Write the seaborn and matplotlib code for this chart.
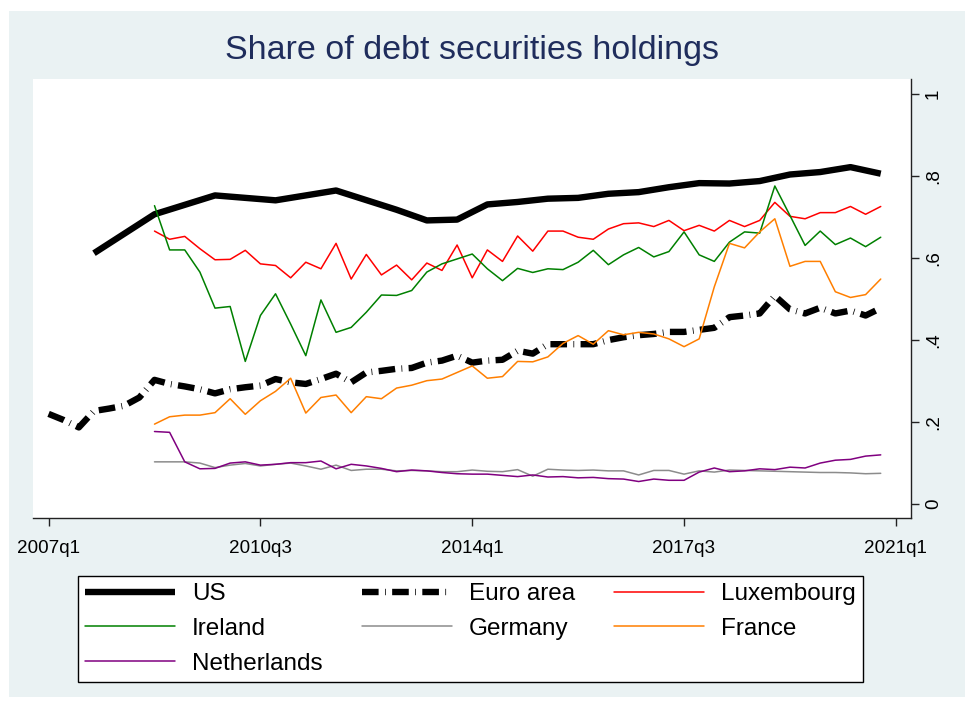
"""
Share of debt securities holdings, 2007q1-2020q4
"""

import matplotlib
matplotlib.use("Agg")
import matplotlib.pyplot as plt
import seaborn as sb
from matplotlib.patches import Rectangle

# Data
us_periods = ["2007q4", "2008q4", "2009q4", "2010q4", "2011q4", "2012q4",
              "2013q2", "2013q4", "2014q2", "2014q4", "2015q2", "2015q4",
              "2016q2", "2016q4", "2017q2", "2017q4", "2018q2", "2018q4",
              "2019q2", "2019q4", "2020q2", "2020q4"]
us = [0.612, 0.707, 0.753, 0.741, 0.765, 0.718, 0.692, 0.694, 0.731, 0.737,
      0.745, 0.747, 0.757, 0.761, 0.773, 0.783, 0.782, 0.788, 0.804, 0.810,
      0.822, 0.806]

# euro area: every quarter 2007q1 .. 2020q4
euro_start, euro_end = "2007q1", "2020q4"
euro = [0.220, 0.205, 0.187, 0.227, 0.233, 0.240, 0.260, 0.303, 0.293, 0.287,
        0.280, 0.270, 0.280, 0.285, 0.289, 0.305, 0.297, 0.293, 0.305, 0.318,
        0.297, 0.321, 0.325, 0.330, 0.332, 0.345, 0.350, 0.362, 0.345, 0.350,
        0.352, 0.374, 0.367, 0.390, 0.390, 0.390, 0.390, 0.400, 0.407, 0.412,
        0.415, 0.420, 0.420, 0.425, 0.430, 0.456, 0.460, 0.465, 0.508, 0.475,
        0.465, 0.479, 0.465, 0.472, 0.460, 0.478]

# countries: every quarter 2008q4 .. 2020q4
cty_start, cty_end = "2008q4", "2020q4"
luxembourg = [0.666, 0.646, 0.653, 0.623, 0.596, 0.597, 0.619, 0.586, 0.582, 0.552,
              0.590, 0.574, 0.636, 0.549, 0.609, 0.559, 0.583, 0.547, 0.588, 0.570,
              0.632, 0.552, 0.620, 0.592, 0.654, 0.617, 0.666, 0.666, 0.651, 0.646,
              0.671, 0.684, 0.686, 0.677, 0.692, 0.667, 0.680, 0.666, 0.692, 0.677,
              0.692, 0.736, 0.702, 0.696, 0.711, 0.711, 0.726, 0.707, 0.726]
ireland = [0.728, 0.620, 0.620, 0.566, 0.478, 0.482, 0.348, 0.460, 0.513, 0.439,
           0.362, 0.498, 0.419, 0.431, 0.468, 0.510, 0.509, 0.521, 0.566, 0.586,
           0.598, 0.610, 0.574, 0.545, 0.575, 0.565, 0.574, 0.572, 0.590, 0.619,
           0.584, 0.608, 0.626, 0.603, 0.616, 0.664, 0.608, 0.592, 0.639, 0.664,
           0.661, 0.776, 0.704, 0.631, 0.666, 0.633, 0.649, 0.628, 0.651]
germany = [0.103, 0.103, 0.103, 0.100, 0.089, 0.095, 0.099, 0.093, 0.097, 0.100,
           0.093, 0.085, 0.095, 0.082, 0.085, 0.085, 0.081, 0.082, 0.081, 0.079,
           0.079, 0.083, 0.080, 0.079, 0.084, 0.068, 0.085, 0.083, 0.082, 0.083,
           0.081, 0.081, 0.071, 0.082, 0.082, 0.073, 0.081, 0.078, 0.083, 0.082,
           0.081, 0.080, 0.079, 0.078, 0.077, 0.077, 0.076, 0.074, 0.075]
france = [0.195, 0.213, 0.217, 0.217, 0.223, 0.257, 0.219, 0.252, 0.275, 0.307,
          0.222, 0.260, 0.266, 0.223, 0.262, 0.257, 0.283, 0.290, 0.301, 0.305,
          0.321, 0.337, 0.307, 0.311, 0.348, 0.347, 0.359, 0.392, 0.411, 0.390,
          0.423, 0.413, 0.419, 0.415, 0.403, 0.384, 0.403, 0.530, 0.636, 0.625,
          0.664, 0.696, 0.580, 0.592, 0.592, 0.518, 0.504, 0.511, 0.549]
netherlands = [0.177, 0.175, 0.103, 0.086, 0.087, 0.100, 0.103, 0.095, 0.097, 0.101,
               0.101, 0.105, 0.086, 0.097, 0.093, 0.087, 0.079, 0.083, 0.081, 0.077,
               0.074, 0.073, 0.073, 0.070, 0.067, 0.071, 0.066, 0.067, 0.064, 0.065,
               0.062, 0.061, 0.055, 0.061, 0.058, 0.058, 0.078, 0.088, 0.079, 0.081,
               0.086, 0.084, 0.090, 0.088, 0.100, 0.107, 0.109, 0.117, 0.120]

xtick_labels = ["2007q1", "2010q3", "2014q1", "2017q3", "2021q1"]
ytick_values = [0, 0.2, 0.4, 0.6, 0.8, 1]
ytick_labels = ["0", ".2", ".4", ".6", ".8", "1"]


def qidx(label):
    # quarter number counted from 2007q1
    y, q = label.split("q")
    return (int(y) - 2007) * 4 + int(q) - 1


def qrange(a, b):
    return list(range(qidx(a), qidx(b) + 1))


# Figure setup (Stata s2color look)
sb.set_style("white")
plt.rcParams["font.family"] = ["Liberation Sans", "DejaVu Sans"]
plt.rcParams["text.color"] = "black"

W, H = 965, 708
fig = plt.figure(figsize=(W / 100, H / 100), dpi=100, facecolor="white")
fig.patches.append(Rectangle((9 / W, 11 / H), 1 - 9 / W, 1 - 22 / H,
                             transform=fig.transFigure, facecolor="#eaf2f3",
                             edgecolor="none", zorder=-10))
ax = fig.add_axes([33 / W, 1 - 518 / H, (911 - 33) / W, (518 - 79) / H])
ax.set_facecolor("white")

series = [
    ("US", [qidx(p) for p in us_periods], us,
     dict(color="black", lw=4.6, solid_capstyle="butt")),
    ("Euro area", qrange(euro_start, euro_end), euro,
     dict(color="black", lw=4.6, linestyle=(0, (2.6, 1.0, 0.12, 1.0)),
          dash_capstyle="butt")),
    ("Luxembourg", qrange(cty_start, cty_end), luxembourg, dict(color="#ff0000", lw=1.1)),
    ("Ireland", qrange(cty_start, cty_end), ireland, dict(color="#008000", lw=1.1)),
    ("Germany", qrange(cty_start, cty_end), germany, dict(color="#8c8c8c", lw=1.1)),
    ("France", qrange(cty_start, cty_end), france, dict(color="#ff7f00", lw=1.1)),
    ("Netherlands", qrange(cty_start, cty_end), netherlands, dict(color="#800080", lw=1.1)),
]

for name, xs, ys, style in series:
    sb.lineplot(x=xs, y=ys, ax=ax, label=name, **style)

# Axes
ax.set_xlim(-1.03, 57.0)
ax.set_ylim(-0.034, 1.037)
ax.set_xticks([qidx(l) for l in xtick_labels])
ax.set_xticklabels(xtick_labels)
ax.yaxis.tick_right()
ax.set_yticks(ytick_values)
ax.set_yticklabels(ytick_labels)
for lab in ax.get_yticklabels():
    lab.set_rotation(90)
    lab.set_va("center")
    lab.set_ha("left")
ax.set_xlabel("")
ax.set_ylabel("")

for side in ["top", "left"]:
    ax.spines[side].set_visible(False)
for side in ["bottom", "right"]:
    ax.spines[side].set_color("#222222")
    ax.spines[side].set_linewidth(1.0)
ax.tick_params(axis="x", bottom=True, length=6, width=1.0, color="#222222",
               labelsize=13.6, pad=10, labelcolor="black")
ax.tick_params(axis="y", right=True, left=False, length=6, width=1.0,
               color="#222222", labelsize=13.6, pad=4, labelcolor="black")

# Title
fig.text(472 / W, 1 - 50 / H, "Share of debt securities holdings",
         ha="center", va="center", fontsize=24.5, color="#1f2d5c")

# Legend: rows US/Euro/Lux, Ireland/Germany/France, Netherlands
handles, labels = ax.get_legend_handles_labels()
ax.get_legend().remove()
order = ["US", "Ireland", "Netherlands", "Euro area", "Germany",
         "Luxembourg", "France"]
hmap = dict(zip(labels, handles))
leg = fig.legend([hmap[k] for k in order], order, ncol=3, loc="upper left",
                 bbox_to_anchor=(78 / W, 1 - 576 / H),
                 bbox_transform=fig.transFigure, frameon=True, fancybox=False,
                 edgecolor="black", framealpha=1, fontsize=17.5,
                 handlelength=3.7, handletextpad=0.7, columnspacing=1.6,
                 labelspacing=0.52, borderpad=0.3, borderaxespad=0)
leg.get_frame().set_linewidth(1.0)
for t in leg.get_texts():
    t.set_color("black")

fig.savefig("out.png", dpi=100, facecolor=fig.get_facecolor())
